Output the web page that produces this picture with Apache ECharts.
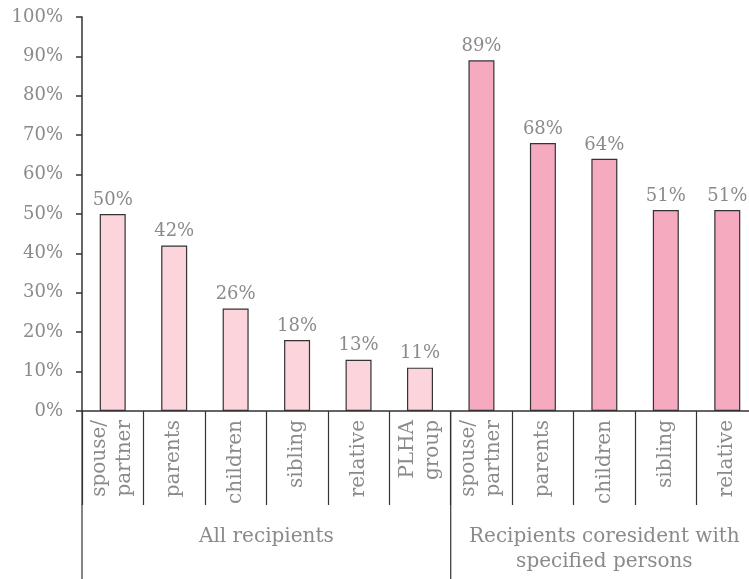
<!DOCTYPE html>
<html>
<head>
<meta charset="utf-8">
<script src="https://cdn.jsdelivr.net/npm/echarts@6/dist/echarts.min.js"></script>
<style>
  html, body { margin: 0; padding: 0; background: #fff; overflow: hidden; }
  #chart { width: 760px; height: 579px; }
</style>
</head>
<body>
<div id="chart"></div>
<script>
// Categories for each recipient group
const allCategories = ['spouse/\npartner', 'parents', 'children', 'sibling', 'relative', 'PLHA\ngroup'];
const coresidentCategories = ['spouse/\npartner', 'parents', 'children', 'sibling', 'relative'];

// Share of recipients (%)
const allValues = [50, 42, 26, 18, 13, 11];
const coresidentValues = [89, 68, 64, 51, 51];

// Group captions under the category labels
const groupLabels = ['All recipients', 'Recipients coresident with\nspecified persons'];

// Y-axis ticks
const yTicks = [0, 10, 20, 30, 40, 50, 60, 70, 80, 90, 100];

const FONT = 'DejaVu Serif';
const GREY = '#8a8a8a';
const AXIS = '#333333';
const LIGHT = '#fcd4dc';
const DARK = '#f6aabf';

const categories = allCategories.concat(coresidentCategories);
const barData = allValues.map(v => ({ value: v, itemStyle: { color: LIGHT } }))
  .concat(coresidentValues.map(v => ({ value: v, itemStyle: { color: DARK } })));

const chart = echarts.init(document.getElementById('chart'), null, { renderer: 'canvas' });

chart.setOption({
  animation: false,
  backgroundColor: '#ffffff',
  grid: { left: 82, top: 17, right: 2, bottom: 168, containLabel: false },
  xAxis: {
    type: 'category',
    data: categories,
    boundaryGap: true,
    axisLine: { show: true, lineStyle: { color: AXIS, width: 1.5 } },
    axisTick: { show: true, interval: 0, length: 94, lineStyle: { color: AXIS, width: 1.2 } },
    axisLabel: {
      interval: 0, rotate: 90, margin: 9,
      color: GREY, fontFamily: FONT, fontSize: 20, lineHeight: 25
    }
  },
  yAxis: {
    type: 'value',
    min: yTicks[0], max: yTicks[yTicks.length - 1], interval: 10,
    axisLine: { show: true, lineStyle: { color: AXIS, width: 1.5 } },
    axisTick: { show: true, length: 6, lineStyle: { color: AXIS, width: 1.5 } },
    splitLine: { show: false },
    axisLabel: {
      margin: 19, color: GREY, fontFamily: FONT, fontSize: 18,
      formatter: v => v + '%'
    }
  },
  series: [{
    type: 'bar',
    data: barData,
    barWidth: 26,
    itemStyle: { borderColor: AXIS, borderWidth: 1.2 },
    label: {
      show: true, position: 'top', distance: 5,
      color: GREY, fontFamily: FONT, fontSize: 18,
      formatter: p => p.value + '%'
    }
  }]
});

// Group separators and captions, positioned from the category axis
function drawGroups() {
  const c0 = chart.convertToPixel({ xAxisIndex: 0 }, 0);
  const c1 = chart.convertToPixel({ xAxisIndex: 0 }, 1);
  const band = c1 - c0;
  const edge = i => c0 - band / 2 + i * band;
  const axisY = chart.convertToPixel({ yAxisIndex: 0 }, 0);
  const nA = allCategories.length;
  const nB = coresidentCategories.length;
  const bounds = [0, nA, nA + nB];
  const elements = bounds.map(i => ({
    type: 'line',
    shape: { x1: edge(i), y1: axisY, x2: edge(i), y2: 579 },
    style: { stroke: AXIS, lineWidth: 1.2 }
  }));
  elements.push({
    type: 'text', x: (edge(0) + edge(nA)) / 2, y: 537,
    style: { text: groupLabels[0], fill: GREY, font: '20px "' + FONT + '"', align: 'center', verticalAlign: 'middle' }
  });
  elements.push({
    type: 'text', x: (edge(nA) + edge(nA + nB)) / 2, y: 549.5,
    style: { text: groupLabels[1], fill: GREY, font: '20px "' + FONT + '"', align: 'center', verticalAlign: 'middle', lineHeight: 25 }
  });
  chart.setOption({ graphic: { elements: elements } });
}
drawGroups();
</script>
</body>
</html>
